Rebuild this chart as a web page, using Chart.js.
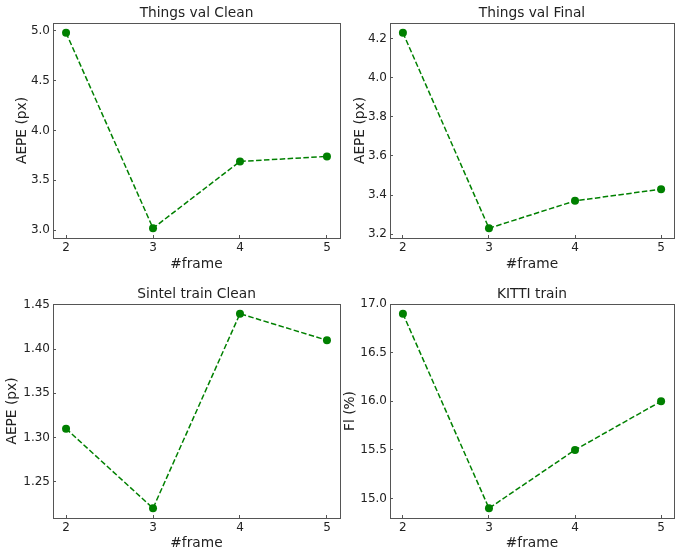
<!DOCTYPE html>
<html>
<head>
<meta charset="utf-8">
<script src="https://cdn.jsdelivr.net/npm/chart.js@4"></script>
<style>
  html, body { margin: 0; padding: 0; background: #fff; }
  #wrap { position: relative; width: 675px; height: 552px; }
  .panel { position: absolute; }
</style>
</head>
<body>
<div id="wrap">
  <canvas class="panel" id="c1" width="341" height="276" style="left:0;top:0"></canvas>
  <canvas class="panel" id="c2" width="335" height="276" style="left:340px;top:0"></canvas>
  <canvas class="panel" id="c3" width="341" height="276" style="left:0;top:276px"></canvas>
  <canvas class="panel" id="c4" width="335" height="276" style="left:340px;top:276px"></canvas>
</div>
<script>
// data
const frames = [2, 3, 4, 5];
const thingsClean = [4.98, 3.02, 3.69, 3.74];
const thingsFinal = [4.23, 3.23, 3.37, 3.43];
const sintelClean = [1.31, 1.22, 1.44, 1.41];
const kittiFl = [16.9, 14.9, 15.5, 16.0];

// tick labels
const frameTicks = [2, 3, 4, 5];
const cleanTicks = [3.0, 3.5, 4.0, 4.5, 5.0];
const finalTicks = [3.2, 3.4, 3.6, 3.8, 4.0, 4.2];
const sintelTicks = [1.25, 1.30, 1.35, 1.40, 1.45];
const kittiTicks = [15.0, 15.5, 16.0, 16.5, 17.0];

const GREEN = '#008000';
const EDGE = '#555555';
const TEXT = '#222222';
const FONT = "'DejaVu Sans', sans-serif";
const LABEL_SIZE = 13.75;

Chart.defaults.font.family = FONT;
Chart.defaults.color = TEXT;

// matplotlib-like box around the plot area
const framePlugin = {
    id: 'frame',
    afterDraw(chart) {
        const a = chart.chartArea;
        const ctx = chart.ctx;
        ctx.save();
        ctx.strokeStyle = EDGE;
        ctx.lineWidth = 1;
        ctx.strokeRect(Math.round(a.left) + 0.5, Math.round(a.top) + 0.5,
            Math.round(a.right - a.left), Math.round(a.bottom - a.top));
        ctx.restore();
    }
};

function padRange(values) {
    const lo = Math.min(...values), hi = Math.max(...values);
    const m = (hi - lo) * 0.05;
    return [lo - m, hi + m];
}

function makePanel(id, opts) {
    const [yMin, yMax] = padRange(opts.values);
    const xm = (Math.max(...frames) - Math.min(...frames)) * 0.05;
    const labelLH = LABEL_SIZE * 1.2;
    new Chart(document.getElementById(id), {
        type: 'line',
        data: {
            datasets: [{
                data: frames.map((f, i) => ({ x: f, y: opts.values[i] })),
                borderColor: GREEN,
                backgroundColor: GREEN,
                borderWidth: 1.5,
                borderDash: [5.5, 2.4],
                pointRadius: 4,
                pointHoverRadius: 4,
                pointBorderWidth: 0,
                pointBackgroundColor: GREEN,
                tension: 0
            }]
        },
        options: {
            responsive: false,
            animation: false,
            devicePixelRatio: 1,
            layout: { autoPadding: false, padding: { left: 0, right: 1, top: 0, bottom: 0 } },
            plugins: {
                legend: { display: false },
                tooltip: { enabled: false },
                title: {
                    display: true,
                    text: opts.title,
                    fullSize: false,
                    color: TEXT,
                    font: { size: LABEL_SIZE, weight: 'normal', lineHeight: 1.2 },
                    padding: { top: opts.titleTop, bottom: opts.plotTop - opts.titleTop - labelLH }
                }
            },
            scales: {
                x: {
                    type: 'linear',
                    position: 'bottom',
                    min: Math.min(...frames) - xm,
                    max: Math.max(...frames) + xm,
                    afterBuildTicks: s => { s.ticks = frameTicks.map(v => ({ value: v })); },
                    afterFit: s => { s.height = opts.xAxisH; s.paddingLeft = 0; s.paddingRight = 0; },
                    grid: { display: true, drawOnChartArea: false, drawTicks: true, tickLength: -3, color: EDGE },
                    border: { display: false },
                    ticks: { padding: 6, font: { size: 12 }, color: TEXT, maxRotation: 0, callback: v => String(v) },
                    title: {
                        display: true, text: '#frame', color: TEXT,
                        font: { size: LABEL_SIZE, lineHeight: 1.2 },
                        padding: { top: 0, bottom: opts.xTitlePad }
                    }
                },
                y: {
                    type: 'linear',
                    position: 'left',
                    min: yMin,
                    max: yMax,
                    afterBuildTicks: s => { s.ticks = opts.ticks.map(v => ({ value: v })); },
                    afterFit: s => { s.width = opts.yAxisW; s.paddingTop = 0; s.paddingBottom = 0; },
                    grid: { display: true, drawOnChartArea: false, drawTicks: true, tickLength: -3, color: EDGE },
                    border: { display: false },
                    ticks: { padding: 6, font: { size: 12 }, color: TEXT, callback: v => v.toFixed(opts.digits) },
                    title: {
                        display: true, text: opts.ylabel, color: TEXT,
                        font: { size: LABEL_SIZE, lineHeight: 1.2 },
                        padding: { top: opts.yTitlePad, bottom: 0 }
                    }
                }
            }
        },
        plugins: [framePlugin]
    });
}

makePanel('c1', { title: 'Things val Clean', values: thingsClean, ticks: cleanTicks, digits: 1,
    ylabel: 'AEPE (px)', yAxisW: 53, xAxisH: 38, plotTop: 23, titleTop: 5, yTitlePad: 13.75, xTitlePad: 3.75 });
makePanel('c2', { title: 'Things val Final', values: thingsFinal, ticks: finalTicks, digits: 1,
    ylabel: 'AEPE (px)', yAxisW: 50, xAxisH: 38, plotTop: 23, titleTop: 5, yTitlePad: 11.75, xTitlePad: 3.75 });
makePanel('c3', { title: 'Sintel train Clean', values: sintelClean, ticks: sintelTicks, digits: 2,
    ylabel: 'AEPE (px)', yAxisW: 53, xAxisH: 34, plotTop: 28, titleTop: 9.75, yTitlePad: 3.75, xTitlePad: 0.75 });
makePanel('c4', { title: 'KITTI train', values: kittiFl, ticks: kittiTicks, digits: 1,
    ylabel: 'Fl (%)', yAxisW: 50, xAxisH: 34, plotTop: 28, titleTop: 9.75, yTitlePad: 1.75, xTitlePad: 0.75 });
</script>
</body>
</html>
